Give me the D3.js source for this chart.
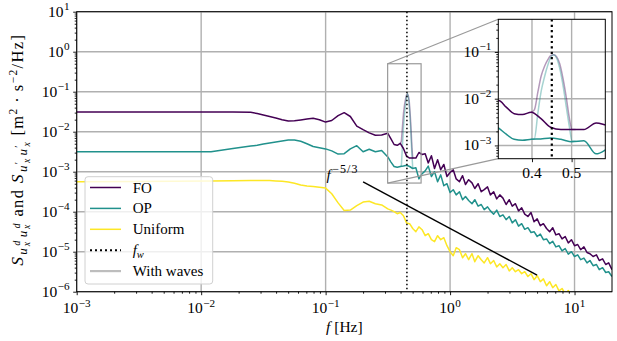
<!DOCTYPE html>
<html>
<head>
<meta charset="utf-8">
<script src="https://cdn.jsdelivr.net/npm/d3@7"></script>
<style>
  body { margin: 0; background: #fff; }
  svg { display: block; font-family: "Liberation Serif", "Times New Roman", serif; }
</style>
</head>
<body>
<svg id="chart" width="617" height="341"></svg>
<script>
// Frequency grid [Hz]
const freq = [
  0.001, 0.003, 0.006, 0.012, 0.018, 0.025,
  0.0282, 0.0316, 0.0355, 0.0398, 0.0447, 0.0501, 0.0562, 0.0631, 0.0708, 0.0794,
  0.0891, 0.1, 0.112, 0.126, 0.141, 0.158, 0.178, 0.2, 0.224, 0.251, 0.282,
  0.316, 0.335, 0.355, 0.376, 0.398, 0.422, 0.447, 0.473, 0.501, 0.531, 0.562, 0.596,
  0.631, 0.668, 0.708, 0.750, 0.794, 0.841, 0.891, 0.944, 1.0, 1.06, 1.12, 1.19,
  1.26, 1.33, 1.41, 1.50, 1.58, 1.68, 1.78, 1.88, 2.0, 2.11, 2.24, 2.37,
  2.51, 2.66, 2.82, 2.99, 3.16, 3.35, 3.55, 3.76, 3.98, 4.22, 4.47, 4.73,
  5.01, 5.31, 5.62, 5.96, 6.31, 6.68, 7.08, 7.50, 7.94, 8.41, 8.91, 9.44,
  10.0, 10.6, 11.2, 11.9, 12.6, 13.3, 14.1, 15.0, 15.8, 16.8, 17.8, 18.8, 20.0
];

// Spectral densities, log10 S [m^2 s^-2 / Hz]
const foLog = [
  -1.51, -1.51, -1.51, -1.51, -1.51, -1.515,
  -1.545, -1.58, -1.62, -1.66, -1.70, -1.73, -1.725, -1.705, -1.685, -1.665,
  -1.70, -1.76, -1.72, -1.60, -1.525, -1.62, -1.86, -1.95, -2.03, -2.09, -2.08,
  -2.04, -2.18, -2.32, -2.34, -2.29, -2.42, -2.61, -2.66, -2.66, -2.66, -2.52, -2.57,
  -2.55, -2.78, -2.60, -2.92, -2.70, -2.95, -2.82, -3.12, -3.02, -2.95, -3.18, -3.25,
  -3.10, -3.32, -3.20, -3.28, -3.42, -3.30, -3.50, -3.45, -3.38, -3.58, -3.50, -3.68,
  -3.58, -3.66, -3.82, -3.70, -3.86, -3.80, -3.98, -3.90, -4.06, -4.12, -4.02, -4.25,
  -4.18, -4.35, -4.30, -4.42, -4.50, -4.40, -4.58, -4.55, -4.68, -4.62, -4.78, -4.70,
  -4.85, -4.82, -4.95, -4.88, -5.02, -5.05, -5.12, -5.08, -5.22, -5.18, -5.32, -5.28, -5.45
];
const opLog = [
  -2.50, -2.50, -2.50, -2.50, -2.42, -2.36,
  -2.34, -2.31, -2.28, -2.255, -2.23, -2.21, -2.21, -2.24, -2.30, -2.37,
  -2.40, -2.43, -2.48, -2.56, -2.55, -2.43, -2.35, -2.50, -2.44, -2.50, -2.47,
  -2.63, -2.76, -2.87, -2.89, -2.87, -2.86, -2.84, -2.87, -2.92, -2.90, -3.18, -3.05,
  -2.98, -2.86, -3.12, -3.00, -3.25, -3.08, -3.35, -3.30, -3.52, -3.45, -3.58, -3.50,
  -3.70, -3.62, -3.72, -3.80, -3.70, -3.86, -3.82, -3.95, -3.88, -3.98, -4.06, -3.96,
  -4.12, -4.08, -4.20, -4.12, -4.28, -4.20, -4.36, -4.30, -4.44, -4.40, -4.52, -4.50,
  -4.62, -4.56, -4.70, -4.68, -4.80, -4.74, -4.88, -4.85, -4.98, -4.92, -5.06, -5.00,
  -5.12, -5.08, -5.20, -5.16, -5.28, -5.22, -5.35, -5.32, -5.45, -5.40, -5.52, -5.50, -5.62
];
const uniformLog = [
  -3.25, -3.245, -3.24, -3.23, -3.225, -3.22,
  -3.22, -3.22, -3.22, -3.23, -3.24, -3.26, -3.29, -3.33, -3.36, -3.37,
  -3.39, -3.41, -3.55, -3.78, -3.97, -3.96, -3.85, -3.76, -3.74, -3.80, -3.83,
  -3.93, -3.96, -4.00, -4.05, -4.02, -4.10, -4.28, -4.30, -4.42, -4.50, -4.38, -4.45,
  -4.60, -4.55, -4.70, -4.75, -4.60, -4.70, -4.65, -4.85, -5.00, -5.10, -4.90, -4.95,
  -5.15, -5.05, -5.20, -5.05, -5.25, -5.10, -5.20, -5.28, -5.15, -5.30, -5.22, -5.38,
  -5.30, -5.40, -5.32, -5.48, -5.40, -5.50, -5.45, -5.55, -5.50, -5.62, -5.55, -5.70,
  -5.60, -5.75, -5.68, -5.85, -5.75, -5.90, -5.82, -5.98, -5.92, -6.05, -5.97, -6.10,
  -6.20, -6.25, -6.30, -6.35, -6.30, -6.40, -6.45, -6.40, -6.50, -6.55, -6.50, -6.60, -6.65
];

// Wave peak around f_w (runs with waves), log10 S
const waveFreq = [0.398, 0.406, 0.415, 0.423, 0.432, 0.44, 0.447, 0.455, 0.462, 0.47, 0.479, 0.487, 0.494, 0.501, 0.51];
const foWaveLog = [-2.29, -2.24, -1.85, -1.52, -1.30, -1.165, -1.08, -1.06, -1.10, -1.25, -1.60, -2.00, -2.40, -2.66, -2.66];
const opWaveLog = [-2.87, -2.86, -2.30, -1.85, -1.52, -1.28, -1.12, -1.06, -1.13, -1.35, -1.75, -2.20, -2.58, -2.90, -2.91];

const fWave = 0.45;
// Reference slope f^(-5/3)
const slopeFreq = [0.2, 5];
const slopeCoef = 3.8e-5;

const xTickExps = [-3, -2, -1, 0, 1];
const yTickExps = [1, 0, -1, -2, -3, -4, -5, -6];
const insetXTicks = [0.4, 0.5];
const insetYTickExps = [-1, -2, -3];
const seriesNames = ["FO", "OP", "Uniform"];
const seriesColors = ["#440154", "#21918c", "#fde725"];

const M = { left: 76.7, right: 612, top: 11.7, bottom: 291.7 };
const IN = { left: 498.3, right: 605.3, top: 19.3, bottom: 158.7 };
const gridColor = "#b0b0b0";
const svg = d3.select("#chart");

const x = d3.scaleLog().domain([1e-3, 20]).range([M.left, M.right]);
const y = d3.scaleLog().domain([1e-6, 10]).range([M.bottom, M.top]);
const xi = d3.scaleLinear().domain([0.7 * fWave, 1.3 * fWave]).range([IN.left, IN.right]);
const yi = d3.scaleLog().domain([5.2e-4, 0.5]).range([IN.bottom, IN.top]);

const defs = svg.append("defs");
defs.append("clipPath").attr("id", "clipMain").append("rect")
  .attr("x", M.left).attr("y", M.top).attr("width", M.right - M.left).attr("height", M.bottom - M.top);
defs.append("clipPath").attr("id", "clipInset").append("rect")
  .attr("x", IN.left).attr("y", IN.top).attr("width", IN.right - IN.left).attr("height", IN.bottom - IN.top);

const pts = (fs, ls) => fs.map((f, i) => [f, Math.pow(10, ls[i])]);
const seriesData = [pts(freq, foLog), pts(freq, opLog), pts(freq, uniformLog)];
const waveData = [pts(waveFreq, foWaveLog), pts(waveFreq, opWaveLog)];

function minorValues(lo, hi, d0, d1) {
  const out = [];
  for (let d = d0; d <= d1; d++) for (let k = 2; k <= 9; k++) {
    const v = k * Math.pow(10, d);
    if (v > lo && v < hi) out.push(v);
  }
  return out;
}

// power-of-ten label with superscript exponent
function powLabel(sel, e, size) {
  sel.append("tspan").text("10");
  sel.append("tspan").attr("font-size", size * 0.72).attr("dy", -size * 0.42).attr("dx", 0.5)
    .text(e < 0 ? "\u2212" + (-e) : String(e));
}

// ---------- main axes ----------
const gGrid = svg.append("g");
gGrid.selectAll("line.vx").data(xTickExps).join("line")
  .attr("x1", e => x(Math.pow(10, e))).attr("x2", e => x(Math.pow(10, e)))
  .attr("y1", M.top).attr("y2", M.bottom)
  .attr("stroke", gridColor).attr("stroke-width", 1.4);
gGrid.selectAll("line.hy").data(yTickExps).join("line")
  .attr("y1", e => y(Math.pow(10, e))).attr("y2", e => y(Math.pow(10, e)))
  .attr("x1", M.left).attr("x2", M.right)
  .attr("stroke", gridColor).attr("stroke-width", 1.4);

const line = d3.line().x(d => x(d[0])).y(d => y(d[1]));
const gLines = svg.append("g").attr("clip-path", "url(#clipMain)");
gLines.selectAll("path.wave").data(waveData).join("path")
  .attr("d", line).attr("fill", "none")
  .attr("stroke", (d, i) => seriesColors[i]).attr("stroke-opacity", 0.4).attr("stroke-width", 1.5);
[2, 1, 0].forEach(i => {
  gLines.append("path").datum(seriesData[i]).attr("d", line).attr("fill", "none")
    .attr("stroke", seriesColors[i]).attr("stroke-width", 1.5).attr("stroke-linejoin", "round");
});

// wave frequency marker
gLines.append("line")
  .attr("x1", x(fWave)).attr("x2", x(fWave)).attr("y1", M.top).attr("y2", M.bottom)
  .attr("stroke", "#000").attr("stroke-width", 1.5).attr("stroke-dasharray", "1.5,2.5");

// f^(-5/3) slope
gLines.append("path")
  .datum(slopeFreq.map(f => [f, slopeCoef * Math.pow(f, -5 / 3)]))
  .attr("d", line).attr("stroke", "#000").attr("stroke-width", 1.4).attr("fill", "none");
const slopeText = svg.append("text").attr("x", x(0.1) + 1).attr("y", y(6.3e-4)).attr("font-size", 15);
slopeText.append("tspan").attr("font-style", "italic").text("f");
slopeText.append("tspan").attr("font-size", 12).attr("dy", -7).attr("dx", 1.5)
  .attr("letter-spacing", 1).text("\u22125/3");

// axes ticks
const xMaj = xTickExps.map(e => Math.pow(10, e));
const yMaj = yTickExps.map(e => Math.pow(10, e));
const xMin = minorValues(1e-3, 20, -3, 1);
const yMin = minorValues(1e-6, 10, -6, 0);
function tickAxis(axis, tr) {
  const g = svg.append("g").attr("transform", tr).call(axis);
  g.select(".domain").remove();
  g.selectAll(".tick line").attr("stroke", "#000").attr("stroke-width", 0.9);
  return g;
}
tickAxis(d3.axisBottom(x).tickValues(xMaj).tickSize(3.5).tickFormat(""), `translate(0,${M.bottom})`);
tickAxis(d3.axisBottom(x).tickValues(xMin).tickSize(2).tickFormat(""), `translate(0,${M.bottom})`);
tickAxis(d3.axisLeft(y).tickValues(yMaj).tickSize(3.5).tickFormat(""), `translate(${M.left},0)`);
tickAxis(d3.axisLeft(y).tickValues(yMin).tickSize(2).tickFormat(""), `translate(${M.left},0)`);

// tick labels
svg.append("g").selectAll("text").data(xTickExps).join("text")
  .attr("x", e => x(Math.pow(10, e))).attr("y", M.bottom + 21.5)
  .attr("text-anchor", "middle").attr("font-size", 15.5)
  .each(function (e) { powLabel(d3.select(this), e, 15.5); });
svg.append("g").selectAll("text").data(yTickExps).join("text")
  .attr("x", M.left - 7).attr("y", e => y(Math.pow(10, e)) + 5)
  .attr("text-anchor", "end").attr("font-size", 15.5)
  .each(function (e) { powLabel(d3.select(this), e, 15.5); });

// spines
svg.append("rect").attr("x", M.left).attr("y", M.top)
  .attr("width", M.right - M.left).attr("height", M.bottom - M.top)
  .attr("fill", "none").attr("stroke", "#000").attr("stroke-width", 1);

// axis titles
const xt = svg.append("text").attr("x", (M.left + M.right) / 2).attr("y", 332)
  .attr("text-anchor", "middle").attr("font-size", 15.5);
xt.append("tspan").attr("font-style", "italic").text("f");
xt.append("tspan").text(" [Hz]");

const yt = svg.append("text")
  .attr("transform", `translate(23,${(M.top + M.bottom) / 2 - 2}) rotate(-90)`)
  .attr("text-anchor", "middle").attr("font-size", 16.5);
function ytSpan(txt, opt) {
  const s = yt.append("tspan").text(txt);
  if (opt.size) s.attr("font-size", opt.size);
  if (opt.it) s.attr("font-style", "italic");
  if (opt.dx) s.attr("dx", opt.dx);
  if (opt.dy) s.attr("dy", opt.dy);
}
ytSpan("S", { it: 1, size: 17.5 });
ytSpan("u", { it: 1, size: 13, dy: 4, dx: 1 });
ytSpan("x", { it: 1, size: 9.5, dy: 3, dx: 0.5 });
ytSpan("d", { it: 1, size: 9.5, dx: -4.8, dy: -10 });
ytSpan("u", { it: 1, size: 13, dy: 7, dx: 2 });
ytSpan("x", { it: 1, size: 9.5, dy: 3, dx: 0.5 });
ytSpan("d", { it: 1, size: 9.5, dx: -4.8, dy: -10 });
ytSpan(" and ", { size: 16.5, dy: 3 });
ytSpan("S", { it: 1, size: 17.5 });
ytSpan("u", { it: 1, size: 13, dy: 4, dx: 1 });
ytSpan("\u2032", { size: 10, dy: -5.5 });
ytSpan("x", { it: 1, size: 9.5, dx: -2.5, dy: 8.5 });
ytSpan("u", { it: 1, size: 13, dy: -3, dx: 2 });
ytSpan("\u2032", { size: 10, dy: -5.5 });
ytSpan("x", { it: 1, size: 9.5, dx: -2.5, dy: 8.5 });
ytSpan(" [m", { size: 16.5, dy: -7 });
ytSpan("2", { size: 11.5, dy: -6.5 });
ytSpan("\u2009\u00b7\u2009s", { size: 16.5, dy: 6.5 });
ytSpan("\u22122", { size: 11.5, dy: -6.5 });
ytSpan("/Hz]", { size: 16.5, dy: 6.5 });
// spread the label to its full run along the axis
{
  const w = yt.node().getBBox().width;
  const n = yt.text().length;
  yt.attr("letter-spacing", Math.max(0, (232 - w) / n));
}

// ---------- zoom indicator ----------
const ind = { x0: x(xi.domain()[0]), x1: x(xi.domain()[1]), y0: y(yi.domain()[1]), y1: y(yi.domain()[0]) };
const indG = svg.append("g").attr("stroke", "#9a9a9a").attr("stroke-width", 1.2).attr("fill", "none");
indG.append("rect").attr("x", ind.x0).attr("y", ind.y0).attr("width", ind.x1 - ind.x0).attr("height", ind.y1 - ind.y0);
indG.append("line").attr("x1", ind.x0).attr("y1", ind.y0).attr("x2", IN.left).attr("y2", IN.top);
indG.append("line").attr("x1", ind.x0).attr("y1", ind.y1).attr("x2", IN.left).attr("y2", IN.bottom);

// ---------- legend ----------
const lg = svg.append("g");
lg.append("rect").attr("x", 85).attr("y", 176.7).attr("width", 127.7).attr("height", 107.3)
  .attr("rx", 3).attr("fill", "#fff").attr("fill-opacity", 0.8).attr("stroke", "#d0d0d0");
const legendItems = [
  { label: "FO", color: seriesColors[0] },
  { label: "OP", color: seriesColors[1] },
  { label: "Uniform", color: seriesColors[2] },
  { label: "fw", color: "#000", dotted: true },
  { label: "With waves", color: "#bdbdbd", wide: true }
];
legendItems.forEach((it, i) => {
  const cy = 187.5 + i * 20.9;
  lg.append("line").attr("x1", 90).attr("x2", 121).attr("y1", cy).attr("y2", cy)
    .attr("stroke", it.color).attr("stroke-width", it.wide ? 2.2 : (it.dotted ? 2 : 1.5))
    .attr("stroke-dasharray", it.dotted ? "2,3" : null);
  const t = lg.append("text").attr("x", 132.7).attr("y", cy + 5).attr("font-size", 15);
  if (it.dotted) {
    t.append("tspan").attr("font-style", "italic").text("f");
    t.append("tspan").attr("font-style", "italic").attr("font-size", 10.5).attr("dy", 3).text("w");
  } else {
    t.text(it.label);
  }
});

// ---------- inset ----------
const ig = svg.append("g");
ig.append("rect").attr("x", IN.left).attr("y", IN.top)
  .attr("width", IN.right - IN.left).attr("height", IN.bottom - IN.top).attr("fill", "#fff");
ig.selectAll("line.gx").data(insetXTicks).join("line")
  .attr("x1", d => xi(d)).attr("x2", d => xi(d)).attr("y1", IN.top).attr("y2", IN.bottom)
  .attr("stroke", gridColor).attr("stroke-width", 1.4);
ig.selectAll("line.gy").data(insetYTickExps).join("line")
  .attr("y1", e => yi(Math.pow(10, e))).attr("y2", e => yi(Math.pow(10, e)))
  .attr("x1", IN.left).attr("x2", IN.right)
  .attr("stroke", gridColor).attr("stroke-width", 1.4);

const iline = d3.line().x(d => xi(d[0])).y(d => yi(d[1])).curve(d3.curveMonotoneX);
const igl = ig.append("g").attr("clip-path", "url(#clipInset)");
igl.selectAll("path.wave").data(waveData).join("path")
  .attr("d", iline).attr("fill", "none")
  .attr("stroke", (d, i) => seriesColors[i]).attr("stroke-opacity", 0.4).attr("stroke-width", 1.5);
[2, 1, 0].forEach(i => {
  igl.append("path").datum(seriesData[i].filter(d => d[0] > 0.25 && d[0] < 0.7))
    .attr("d", iline).attr("fill", "none")
    .attr("stroke", seriesColors[i]).attr("stroke-width", 1.5);
});
igl.append("line")
  .attr("x1", xi(fWave)).attr("x2", xi(fWave)).attr("y1", IN.top).attr("y2", IN.bottom)
  .attr("stroke", "#000").attr("stroke-width", 2.2).attr("stroke-dasharray", "2.2,3.2");

const iyMaj = insetYTickExps.map(e => Math.pow(10, e));
const iyMin = minorValues(5.2e-4, 0.5, -4, -1);
const ia1 = ig.append("g").attr("transform", `translate(${IN.left},0)`)
  .call(d3.axisLeft(yi).tickValues(iyMaj).tickSize(3.5).tickFormat(""));
const ia2 = ig.append("g").attr("transform", `translate(${IN.left},0)`)
  .call(d3.axisLeft(yi).tickValues(iyMin).tickSize(2).tickFormat(""));
const ia3 = ig.append("g").attr("transform", `translate(0,${IN.bottom})`)
  .call(d3.axisBottom(xi).tickValues(insetXTicks).tickSize(3.5).tickFormat(""));
[ia1, ia2, ia3].forEach(g => {
  g.select(".domain").remove();
  g.selectAll(".tick line").attr("stroke", "#000").attr("stroke-width", 0.9);
});
ig.append("g").selectAll("text").data(insetYTickExps).join("text")
  .attr("x", IN.left - 7).attr("y", e => yi(Math.pow(10, e)) + 5)
  .attr("text-anchor", "end").attr("font-size", 15.5)
  .each(function (e) { powLabel(d3.select(this), e, 15.5); });
ig.append("g").selectAll("text").data(insetXTicks).join("text")
  .attr("x", d => xi(d)).attr("y", IN.bottom + 19)
  .attr("text-anchor", "middle").attr("font-size", 15.5)
  .text(d => d3.format(".1f")(d));
ig.append("rect").attr("x", IN.left).attr("y", IN.top)
  .attr("width", IN.right - IN.left).attr("height", IN.bottom - IN.top)
  .attr("fill", "none").attr("stroke", "#000").attr("stroke-width", 1);
</script>
</body>
</html>
